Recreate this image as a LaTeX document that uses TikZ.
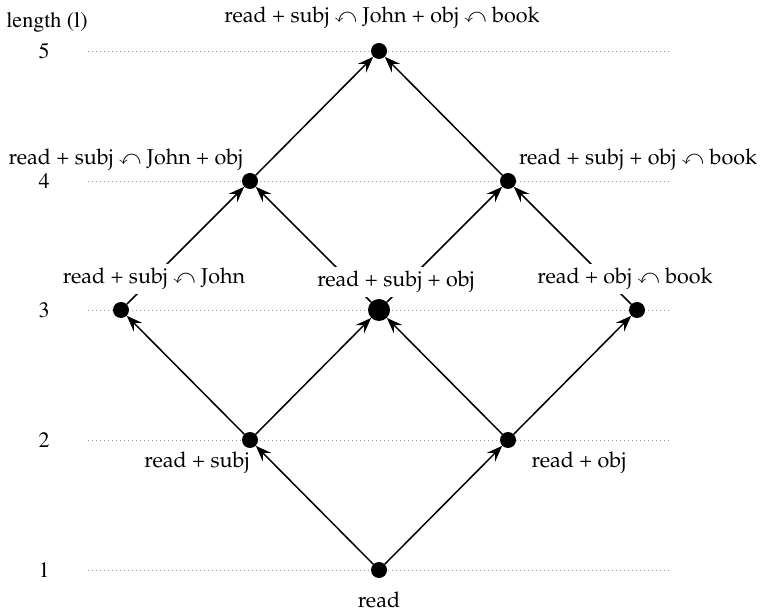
\documentclass[tikz,border=0pt]{standalone}
\usepackage[T1]{fontenc}
\usepackage{mathpazo}
\usepackage{amssymb}
\usetikzlibrary{arrows.meta}
\newcommand{\tms}{\usefont{T1}{ptm}{m}{n}}
\newcommand{\cv}{$\curvearrowleft$}
\begin{document}
\begin{tikzpicture}[x=1pt,y=1pt,
  dot/.style={circle, fill=black, inner sep=0pt, minimum size=16pt},
  bigdot/.style={dot, minimum size=22pt},
  lbl/.style={font=\fontsize{21.5}{25}\selectfont, inner sep=1pt, anchor=base},
  cover/.style={lbl, fill=white, inner sep=4pt},
  lvl/.style={font=\tms\fontsize{22}{26}\selectfont, inner sep=0pt},
  guide/.style={gray!80, line width=0.8pt, dash pattern=on 0.8pt off 3.2pt},
  edge/.style={line width=1.5pt, -{Stealth[length=16pt,width=12pt,inset=6pt]}}]
\useasboundingbox (0,0) rectangle (762,613);

% level axis
\node[lvl, anchor=base] (axis) at (47,585) {length (l)};
\foreach \n/\y in {5/562, 4/432, 3/303, 2/173, 1/43}{
  \node[lvl] (lv\n) at (44,\y) {\n};
  \draw[guide] (88,\y) -- (672,\y);
}

% lattice points
\node[dot] (r)    at (379,43)  {};
\node[dot] (s)    at (250,173) {};
\node[dot] (o)    at (508,173) {};
\node[dot] (sj)   at (121,303) {};
\node[bigdot] (so) at (379,303) {};
\node[dot] (ob)   at (637,303) {};
\node[dot] (sjo)  at (250,432) {};
\node[dot] (sob)  at (508,432) {};
\node[dot] (all)  at (379,562) {};

% inclusion arrows
\draw[edge] (r) -- (s);
\draw[edge] (r) -- (o);
\draw[edge] (s) -- (sj);
\draw[edge] (s) -- (so);
\draw[edge] (o) -- (so);
\draw[edge] (o) -- (ob);
\draw[edge] (sj) -- (sjo);
\draw[edge] (so) -- (sjo);
\draw[edge] (so) -- (sob);
\draw[edge] (ob) -- (sob);
\draw[edge] (sjo) -- (all);
\draw[edge] (sob) -- (all);

% labels
\node[lbl] (tall) at (382,590) {read + subj \cv{} John + obj \cv{} book};
\node[lbl] (tsjo) at (126,448) {read + subj \cv{} John + obj};
\node[lbl] (tsob) at (638,448) {read + subj + obj \cv{} book};
\node[cover] (tsj) at (154,329) {read + subj \cv{} John};
\node[cover] (tso) at (396,326) {read + subj + obj};
\node[cover] (tob) at (625,329) {read + obj \cv{} book};
\node[lbl] (ts)  at (197,146) {read + subj};
\node[lbl] (to)  at (579,146) {read + obj};
\node[lbl] (tr)  at (379,6)   {read};
\end{tikzpicture}
\end{document}
